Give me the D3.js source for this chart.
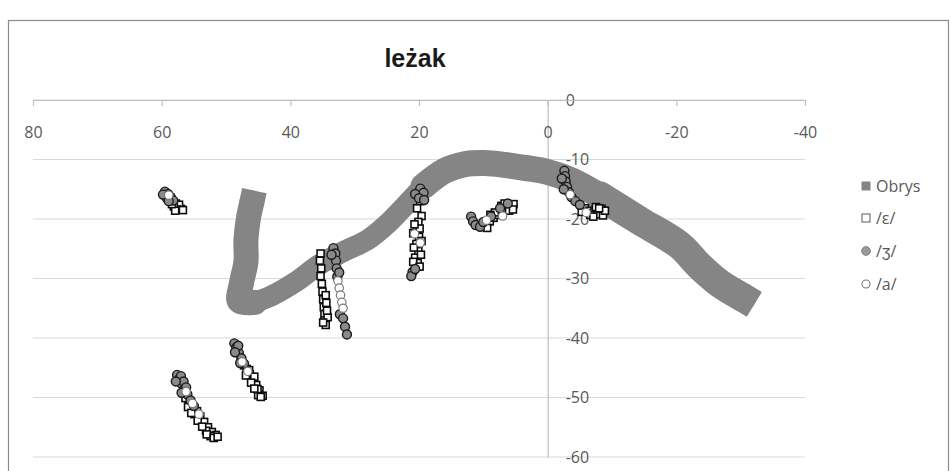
<!DOCTYPE html>
<html><head><meta charset="utf-8">
<script src="https://cdn.jsdelivr.net/npm/d3@7"></script>
<style>body{margin:0;background:#fff}svg{display:block}</style>
</head><body><svg id="c" width="950" height="471"></svg>
<script>
const title = "leżak";
const xTicks = [80, 60, 40, 20, 0, -20, -40];
const yTicks = [0, -10, -20, -30, -40, -50, -60];
const seriesNames = ["Obrys", "/ε/", "/ʒ/", "/a/"];

// Obrys (tongue outline) centre line
const obrysPoints = [
  [46.0,-17.3],[46.5,-19.8],[46.9,-23.5],[46.9,-27.2],[47.6,-30.8],[47.9,-33.8],
  [45.5,-34.0],[42.9,-32.9],[39.2,-30.6],[35.4,-27.6],[31.6,-25.4],[28.0,-23.5],
  [24.9,-20.8],[22.2,-17.8],[19.3,-14.5],[16.0,-11.9],[12.9,-10.8],[9.8,-10.6],
  [6.7,-10.9],[3.6,-11.4],[0.0,-12.1],[-3.7,-13.5],[-8.1,-16.1],[-14.3,-20.3],
  [-20.5,-24.4],[-23.6,-27.9],[-26.7,-30.8],[-30.2,-33.1]
];

const epsPoints = [
  [57.8,-17.4],[57.4,-17.9],[57.0,-18.3],[57.3,-17.6],[57.6,-18.4],[58.1,-17.9],[56.7,-18.5],[57.9,-18.6],[58.4,-17.5],
  [54.5,-52.3],[54.0,-53.2],[53.4,-54.1],[52.8,-55.0],[52.2,-55.8],[51.6,-56.3],[52.4,-56.5],[53.1,-55.6],
  [54.9,-52.8],[54.4,-53.9],[53.7,-54.9],[53.0,-56.2],[55.3,-51.7],[55.8,-50.9],[56.3,-50.1],[55.9,-51.6],
  [55.4,-52.6],[51.9,-56.8],[51.3,-56.6],
  [46.8,-45.2],[46.3,-46.1],[45.8,-47.0],[45.3,-47.9],[44.8,-48.8],[44.3,-49.7],[45.0,-49.6],
  [46.4,-45.4],[45.6,-46.5],[45.1,-48.6],[47.2,-44.6],[46.9,-46.3],[46.1,-47.5],[45.6,-48.5],[44.6,-49.9],
  [35.3,-25.8],[35.4,-27.0],[35.2,-28.3],[35.3,-29.6],[35.1,-30.9],[35.0,-32.2],[34.9,-33.5],[34.8,-34.8],
  [34.7,-36.0],[34.6,-37.0],[34.5,-37.8],[34.2,-36.5],[34.3,-35.4],[34.4,-34.1],[34.5,-32.8],[34.9,-37.4],
  [19.8,-17.0],[20.3,-18.2],[19.6,-19.5],[20.1,-20.5],[20.3,-21.8],[20.0,-23.0],[20.4,-24.2],[20.1,-25.4],
  [20.6,-26.5],[20.2,-27.4],[20.9,-22.4],[20.8,-24.8],[19.7,-26.0],[19.9,-21.6],[20.7,-20.9],[19.6,-23.7],
  [20.9,-27.2],[19.9,-28.0],
  [9.7,-20.9],[9.0,-20.4],[8.4,-19.8],[7.8,-19.3],[7.1,-18.8],[6.5,-18.3],[5.9,-17.9],[5.3,-17.5],
  [8.2,-18.9],[7.2,-17.8],[6.0,-18.6],[5.4,-18.4],[8.9,-19.3],[9.4,-21.5],[6.7,-17.4],
  [-5.8,-18.2],[-6.5,-18.6],[-7.2,-18.9],[-7.9,-19.2],[-8.6,-19.4],[-8.4,-18.3],[-7.5,-18.0],[-6.6,-19.3],
  [-5.3,-18.8],[-8.9,-18.6],[-7.1,-19.6],[-8.0,-18.2]
];

const zhPoints = [
  [59.5,-15.4],[59.0,-15.8],[58.6,-16.3],[58.2,-16.9],[59.2,-16.5],[59.8,-15.9],[58.9,-17.0],
  [57.6,-46.2],[57.3,-46.9],[56.9,-47.7],[56.5,-48.6],[56.0,-49.5],[55.5,-50.5],[55.0,-51.4],
  [57.0,-46.4],[56.6,-47.3],[56.2,-48.3],[57.8,-47.3],[56.9,-49.2],
  [48.7,-40.9],[48.4,-41.6],[48.0,-42.5],[47.6,-43.4],[47.2,-44.3],[48.1,-41.3],[48.6,-42.4],[47.8,-44.2],
  [33.3,-24.9],[33.0,-25.8],[32.9,-27.0],[32.8,-28.3],[32.7,-29.7],[32.3,-36.0],[31.8,-36.7],[31.5,-38.1],[31.2,-39.4],
  [33.6,-26.0],[32.4,-29.0],
  [19.8,-14.9],[19.3,-15.6],[20.6,-15.8],[20.0,-16.5],[21.0,-28.9],[21.2,-29.6],[20.6,-28.4],[19.2,-16.8],
  [11.9,-19.6],[11.6,-20.4],[11.2,-21.0],[10.5,-21.3],[8.8,-19.6],[7.4,-18.2],[6.2,-17.4],[10.0,-20.5],
  [-2.6,-11.9],[-2.7,-12.8],[-2.8,-13.7],[-3.0,-14.6],[-3.3,-15.5],[-3.7,-16.3],[-4.3,-17.0],[-5.0,-17.6],
  [-2.2,-13.2],[-2.5,-15.0]
];

const aPoints = [
  [58.9,-16.0],[56.2,-49.0],[55.2,-51.0],[54.2,-52.8],[47.5,-44.0],[46.6,-45.6],
  [32.6,-30.4],[32.4,-31.6],[32.2,-32.8],[32.0,-34.0],[31.8,-35.0],
  [20.7,-22.5],[19.8,-24.0],[9.5,-20.2],[7.0,-19.5],[-3.5,-15.9],[-6.0,-18.9]
];

const svg = d3.select("#c");
const font = "'Open Sans', sans-serif";
const textCol = "#595959";
const fmt = d => String(d);

// chart border
svg.append("rect").attr("x", 8.5).attr("y", 20.5).attr("width", 940).attr("height", 470)
  .attr("fill", "#fff").attr("stroke", "#8c8c8c").attr("stroke-width", 1.2);

const x = d3.scaleLinear().domain([80, -40]).range([33, 805]);
const y = d3.scaleLinear().domain([0, -60]).range([100, 457]);

// gridlines
svg.append("g").selectAll("line").data(yTicks).join("line")
  .attr("x1", x(80)).attr("x2", x(-40))
  .attr("y1", d => y(d)).attr("y2", d => y(d))
  .attr("stroke", "#d9d9d9").attr("stroke-width", 1.2);

// vertical axis at x=0
const yAxis = svg.append("g").attr("transform", `translate(${x(0)},0)`)
  .call(d3.axisRight(y).tickValues(yTicks).tickSize(0).tickSizeOuter(0).tickPadding(18).tickFormat(fmt));
yAxis.select(".domain").attr("stroke", "#bfbfbf").attr("stroke-width", 1.2);
yAxis.selectAll("text").attr("font-family", font).attr("font-size", 16).attr("fill", textCol);

// horizontal axis at y=0
const xAxis = svg.append("g").attr("transform", `translate(0,${y(0)})`)
  .call(d3.axisBottom(x).tickValues(xTicks).tickSize(6).tickSizeOuter(0).tickPadding(21).tickFormat(fmt));
xAxis.select(".domain").attr("stroke", "#bfbfbf").attr("stroke-width", 1.2);
xAxis.selectAll(".tick line").attr("stroke", "#bfbfbf").attr("stroke-width", 1.2);
xAxis.selectAll("text").attr("font-family", font).attr("font-size", 16).attr("fill", textCol);

// title
svg.append("text").attr("x", 415).attr("y", 67).attr("text-anchor", "middle")
  .attr("font-family", "'Liberation Sans', Arial, sans-serif").attr("font-weight", "bold")
  .attr("font-size", 25).attr("fill", "#1a1a1a").text(title);

// Obrys band (drawn in sections of differing thickness)
const line = d3.line().x(d => x(d[0])).y(d => y(d[1])).curve(d3.curveCatmullRom);
const bandCol = "#858585";
const sections = [[0, 7, 25], [6, 15, 21], [14, 23, 26], [22, 28, 29]];
const bandG = svg.append("g");
sections.forEach(([a, b, w]) => {
  bandG.append("path").datum(obrysPoints.slice(a, b)).attr("d", line)
    .attr("fill", "none").attr("stroke", bandCol).attr("stroke-width", w)
    .attr("stroke-linejoin", "round").attr("stroke-linecap", "round");
});
// flat (square) ends at both extremities of the outline
function flatEnd(pPrev, pEnd, w) {
  const x0 = x(pPrev[0]), y0 = y(pPrev[1]), x1 = x(pEnd[0]), y1 = y(pEnd[1]);
  const len = Math.hypot(x1 - x0, y1 - y0), ux = (x1 - x0) / len, uy = (y1 - y0) / len;
  bandG.append("line").attr("x1", x1 - ux).attr("y1", y1 - uy)
    .attr("x2", x1 + ux * w / 2).attr("y2", y1 + uy * w / 2)
    .attr("stroke", bandCol).attr("stroke-width", w).attr("stroke-linecap", "butt");
}
flatEnd(obrysPoints[1], obrysPoints[0], 25);
flatEnd(obrysPoints[obrysPoints.length - 2], obrysPoints[obrysPoints.length - 1], 29);

// /ε/ squares
const sq = 7;
svg.append("g").selectAll("rect").data(epsPoints).join("rect")
  .attr("x", d => x(d[0]) - sq / 2).attr("y", d => y(d[1]) - sq / 2)
  .attr("width", sq).attr("height", sq)
  .attr("fill", "#fff").attr("stroke", "#0d0d0d").attr("stroke-width", 1.6);

// /ʒ/ grey circles
svg.append("g").selectAll("circle").data(zhPoints).join("circle")
  .attr("cx", d => x(d[0])).attr("cy", d => y(d[1])).attr("r", 4.5)
  .attr("fill", "#8a8a8a").attr("stroke", "#1a1a1a").attr("stroke-width", 1.4);

// /a/ open circles
svg.append("g").selectAll("circle").data(aPoints).join("circle")
  .attr("cx", d => x(d[0])).attr("cy", d => y(d[1])).attr("r", 4.2)
  .attr("fill", "#fff").attr("stroke", "#7a7a7a").attr("stroke-width", 1.2);

// legend
const lg = svg.append("g").attr("transform", "translate(866,0)");
const rowsY = [186, 218, 251, 284];
seriesNames.forEach((name, i) => {
  const g = lg.append("g").attr("transform", `translate(0,${rowsY[i]})`);
  if (i === 0) g.append("rect").attr("x", -4.5).attr("y", -4.5).attr("width", 9).attr("height", 9).attr("fill", bandCol);
  if (i === 1) g.append("rect").attr("x", -4).attr("y", -4).attr("width", 8).attr("height", 8).attr("fill", "#fff").attr("stroke", "#666").attr("stroke-width", 1.1);
  if (i === 2) g.append("circle").attr("r", 4.3).attr("fill", "#9a9a9a").attr("stroke", "#777").attr("stroke-width", 1);
  if (i === 3) g.append("circle").attr("r", 4).attr("fill", "#fff").attr("stroke", "#777").attr("stroke-width", 1.1);
  g.append("text").attr("x", 10).attr("dy", "0.35em").attr("font-family", font).attr("font-size", 16)
    .attr("fill", textCol).text(name);
});
</script>
</body></html>
